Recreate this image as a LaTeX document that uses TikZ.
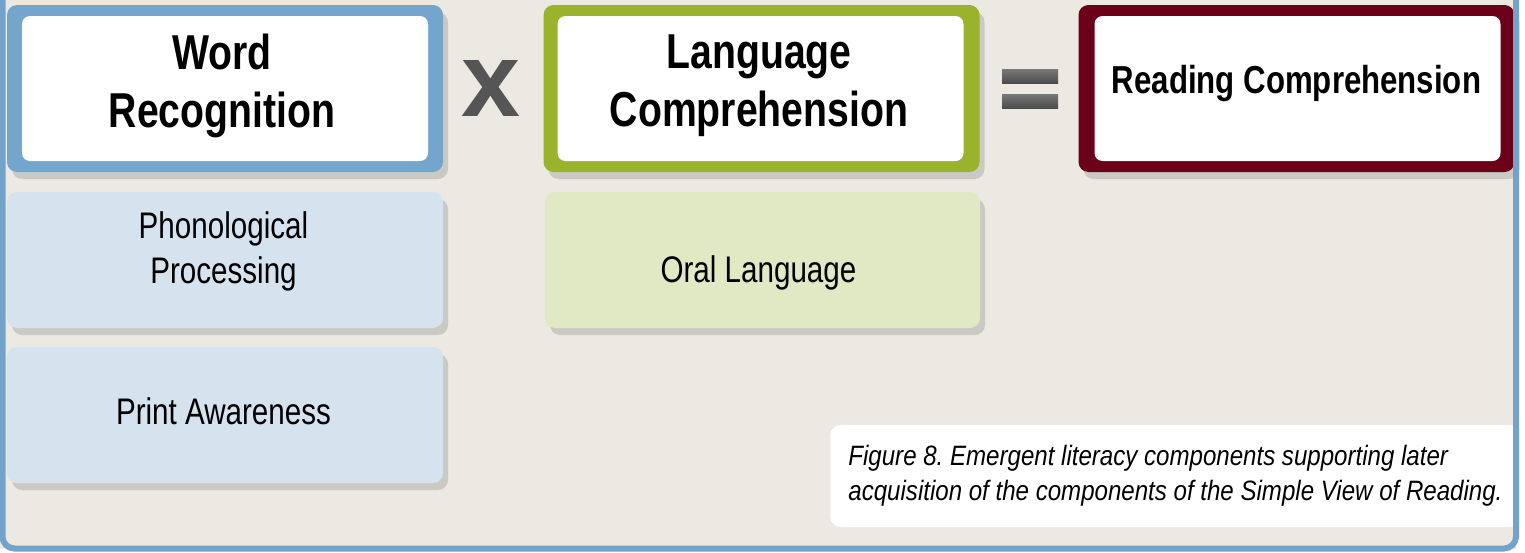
\documentclass[tikz,border=0pt]{standalone}
\usepackage{fontspec}
\setmainfont{Liberation Sans}
\newfontfamily\headfont[FakeStretch=0.8]{Liberation Sans}
\newfontfamily\bodyfont[FakeStretch=0.8]{Liberation Sans}
\newfontfamily\capfont[FakeStretch=0.86]{Liberation Sans}
\usetikzlibrary{shadows}
\frenchspacing

\definecolor{bgcol}{HTML}{ECE9E2}
\definecolor{framecol}{HTML}{72A3CB}
\definecolor{wordcol}{HTML}{73A5CD}
\definecolor{langcol}{HTML}{9AB32D}
\definecolor{readcol}{HTML}{6B0019}
\definecolor{wordlight}{HTML}{D5E3EE}
\definecolor{langlight}{HTML}{E0E8C4}
\definecolor{signcol}{HTML}{555555}

\tikzset{
  outerbox/.style={rounded corners=5pt, minimum width=218pt, minimum height=83.5pt, inner sep=0pt,
    drop shadow={shadow xshift=2.5pt, shadow yshift=-3.5pt, opacity=0.3}},
  innerbox/.style={fill=white, rounded corners=4pt, minimum width=203pt, minimum height=72.5pt, inner sep=0pt},
  subbox/.style={rounded corners=5pt, minimum width=218pt, minimum height=68pt, inner sep=0pt,
    drop shadow={shadow xshift=2.5pt, shadow yshift=-3.5pt, opacity=0.3}},
  headtext/.style={font=\headfont\bfseries\fontsize{24.5}{29}\selectfont, align=center, inner sep=0pt},
  bodytext/.style={font=\bodyfont\fontsize{18.5}{22.5}\selectfont, align=center, inner sep=0pt},
}

\begin{document}
\begin{tikzpicture}[x=0.5pt, y=-0.5pt]
\useasboundingbox (0,0) rectangle (1525,552);
\clip (0,0) rectangle (1525,552);
\fill[white] (0,0) rectangle (1525,552);
\fill[bgcol] (0,-10) rectangle (1516,549);

\node[outerbox, fill=wordcol] (WR) at (225,88.5) {};
\node[innerbox] (WRin) at (225,88.5) {};
\node[headtext] (WRtext) at (222,86) {Word\\Recognition};

\node[outerbox, fill=langcol] (LC) at (761.5,88.5) {};
\node[innerbox] (LCin) at (760.5,88.5) {};
\node[headtext] (LCtext) at (759,86) {Language\\Comprehension};

\node[outerbox, fill=readcol] (RC) at (1296.5,88.5) {};
\node[innerbox] (RCin) at (1297.5,88.5) {};
\node[headtext, font=\headfont\bfseries\fontsize{19.5}{23}\selectfont] (RCtext) at (1296.5,83) {Reading Comprehension};

\node[anchor=base, inner sep=0pt, text=signcol, font=\bfseries\fontsize{53}{53}\selectfont] (times) at (490.5,116.7) {x};
\shade[top color=signcol!80, bottom color=signcol!90!black] (1002,69) rectangle (1058,83);
\shade[top color=signcol!80, bottom color=signcol!90!black] (1002,94) rectangle (1058,108);

\node[subbox, fill=wordlight] (PP) at (225,260) {};
\node[bodytext] (PPtext) at (223.5,251) {Phonological\\Processing};
\node[subbox, fill=wordlight] (PA) at (225,415) {};
\node[bodytext] (PAtext) at (223.5,411) {Print Awareness};
\node[subbox, fill=langlight, minimum width=217.5pt] (OL) at (762.5,260) {};
\node[bodytext] (OLtext) at (758.5,273) {Oral Language};

\node[fill=white, rounded corners=5pt, anchor=west, minimum height=51pt, text width=360pt, inner xsep=9pt, inner ysep=0pt,
  align=flush left, font=\capfont\itshape\fontsize{14}{17.5}\selectfont] (caption) at (830,476)
  {Figure 8. Emergent literacy components supporting later\\acquisition of the components of the Simple View of Reading.};

\draw[framecol, line width=3pt, rounded corners=6pt] (2.5,-10) -- (2.5,548.5) -- (1516,548.5) -- (1516,-10);
\end{tikzpicture}
\end{document}
